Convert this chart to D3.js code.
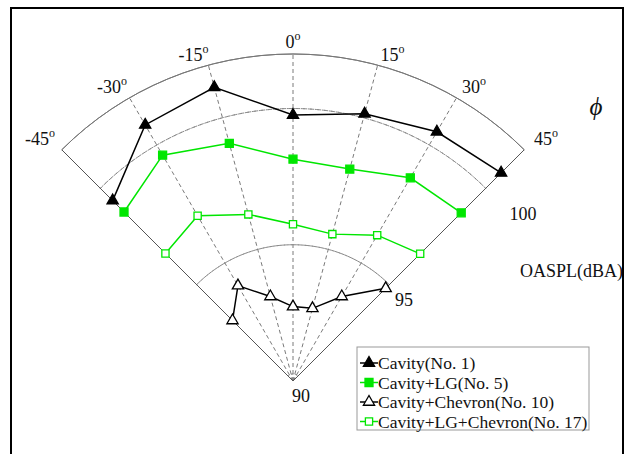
<!DOCTYPE html>
<html>
<head>
<meta charset="utf-8">
<script src="https://cdn.jsdelivr.net/npm/d3@7"></script>
<style>
  html, body { margin: 0; padding: 0; background: #fff; }
</style>
</head>
<body>
<svg id="chart" width="629" height="454"></svg>
<script>
// Directivity angles (degrees) and overall sound pressure levels (dBA)
const angles = [-45, -30, -15, 0, 15, 30, 45];
const cavity = [99.36, 100.85, 101.16, 99.76, 100.15, 100.56, 100.80];
const cavityLG = [98.77, 99.57, 99.03, 98.14, 98.05, 98.61, 98.73];
const cavityChevron = [93.14, 94.04, 93.21, 92.73, 92.76, 93.58, 94.81];
const cavityLGChevron = [96.62, 97.00, 96.33, 95.75, 95.58, 96.18, 96.60];
const seriesNames = ["Cavity(No. 1)", "Cavity+LG(No. 5)", "Cavity+Chevron(No. 10)", "Cavity+LG+Chevron(No. 17)"];
const angleTicks = [-45, -30, -15, 0, 15, 30, 45];
const gridAngles = [-30, -15, 0, 15, 30];
const radialTicks = [95, 100];
const radialDomain = [90, 102];

const FONT = "Liberation Serif";
const svg = d3.select("#chart");
const cx = 293, cy = 381;
const r = d3.scaleLinear().domain(radialDomain).range([0, 327]);
const toRad = a => a * Math.PI / 180;
const px = (a, rr) => cx + rr * Math.sin(toRad(a));
const py = (a, rr) => cy - rr * Math.cos(toRad(a));

// frame
svg.append("rect").attr("x", 11).attr("y", 8).attr("width", 612).attr("height", 460)
  .attr("fill", "none").attr("stroke", "#000").attr("stroke-width", 2);

const g = svg.append("g");

// dashed level arcs
const arcGen = d3.arc().startAngle(toRad(-45)).endAngle(toRad(45));
radialTicks.forEach(v => {
  g.append("path")
    .attr("d", arcGen({innerRadius: r(v), outerRadius: r(v)}))
    .attr("transform", `translate(${cx},${cy})`)
    .attr("fill", "none").attr("stroke", "#8a8a8a").attr("stroke-width", 1)
    .attr("stroke-dasharray", "4,3");
});
// small arc at the origin
g.append("path")
  .attr("d", arcGen({innerRadius: 7, outerRadius: 7}))
  .attr("transform", `translate(${cx},${cy})`)
  .attr("fill", "none").attr("stroke", "#999").attr("stroke-width", 1)
  .attr("stroke-dasharray", "2,2");

// dashed spokes
gridAngles.forEach(a => {
  g.append("line")
    .attr("x1", cx).attr("y1", cy)
    .attr("x2", px(a, r(radialDomain[1]))).attr("y2", py(a, r(radialDomain[1])))
    .attr("stroke", "#7a7a7a").attr("stroke-width", 1).attr("stroke-dasharray", "4,3");
});

// outer boundary
g.append("path")
  .attr("d", arcGen({innerRadius: r(radialDomain[1]), outerRadius: r(radialDomain[1])}))
  .attr("transform", `translate(${cx},${cy})`)
  .attr("fill", "none").attr("stroke", "#777").attr("stroke-width", 1);
[-45, 45].forEach(a => {
  g.append("line")
    .attr("x1", cx).attr("y1", cy)
    .attr("x2", px(a, r(radialDomain[1]))).attr("y2", py(a, r(radialDomain[1])))
    .attr("stroke", "#555").attr("stroke-width", 1);
});

// angle labels
angleTicks.forEach(a => {
  const shift = a === 0 ? 0 : Math.sign(a) * (Math.abs(a) === 45 ? 14 : 12);
  const rr = a === 0 ? 341 : 338;
  const t = g.append("text")
    .attr("x", px(a, rr) + shift)
    .attr("y", py(a, rr) + 8 - Math.abs(a) / 45 * 5)
    .attr("text-anchor", "middle")
    .style("font-family", FONT)
    .attr("font-size", 18)
    .attr("fill", "#111");
  t.append("tspan").text(a);
  t.append("tspan").attr("dy", -8).attr("font-size", 12).text("o");
});

// radial labels
const lbl = (x, y, s, anchor) => g.append("text").attr("x", x).attr("y", y)
  .attr("text-anchor", anchor || "middle").style("font-family", FONT)
  .attr("font-size", 18).attr("fill", "#111").text(s);
lbl(523, 220, "100");
lbl(404, 306, "95");
lbl(301, 402, "90");
lbl(623, 277, "OASPL(dBA)", "end");
g.append("text").attr("x", 596).attr("y", 115).attr("text-anchor", "middle").attr("font-size", 25)
  .style("font-family", FONT).attr("font-style", "italic").attr("fill", "#111").text("\u03D5");

// series
const green = "#00e600";
const series = [
  {vals: cavity, color: "#000", sym: d3.symbolTriangle, size: 55, filled: true},
  {vals: cavityLG, color: green, sym: d3.symbolSquare, size: 64, filled: true},
  {vals: cavityChevron, color: "#000", sym: d3.symbolTriangle, size: 55, filled: false},
  {vals: cavityLGChevron, color: green, sym: d3.symbolSquare, size: 52, filled: false}
];

const line = d3.line().x(d => px(d[0], r(d[1]))).y(d => py(d[0], r(d[1])));
series.forEach(s => {
  const pts = angles.map((a, i) => [a, s.vals[i]]);
  g.append("path").attr("d", line(pts)).attr("fill", "none")
    .attr("stroke", s.color).attr("stroke-width", 1.5);
  g.selectAll(null).data(pts).enter().append("path")
    .attr("d", d3.symbol().type(s.sym).size(s.size))
    .attr("transform", d => `translate(${px(d[0], r(d[1]))},${py(d[0], r(d[1]))})`)
    .attr("fill", s.filled ? s.color : "#fff")
    .attr("stroke", s.color).attr("stroke-width", 1.3);
});

// legend
const lg = svg.append("g").attr("transform", "translate(357,347)");
lg.append("rect").attr("width", 232).attr("height", 83)
  .attr("fill", "#fff").attr("stroke", "#999").attr("stroke-width", 1);
series.forEach((s, i) => {
  const y = 16 + i * 19.5;
  lg.append("line").attr("x1", 3).attr("x2", 21).attr("y1", y).attr("y2", y)
    .attr("stroke", s.color).attr("stroke-width", 1.5);
  lg.append("path").attr("d", d3.symbol().type(s.sym).size(s.size)())
    .attr("transform", `translate(12,${y})`)
    .attr("fill", s.filled ? s.color : "#fff")
    .attr("stroke", s.color).attr("stroke-width", 1.3);
  lg.append("text").attr("x", 21).attr("y", y + 6).style("font-family", FONT)
    .attr("font-size", 17.5).attr("fill", "#111").text(seriesNames[i]);
});
</script>
</body>
</html>
